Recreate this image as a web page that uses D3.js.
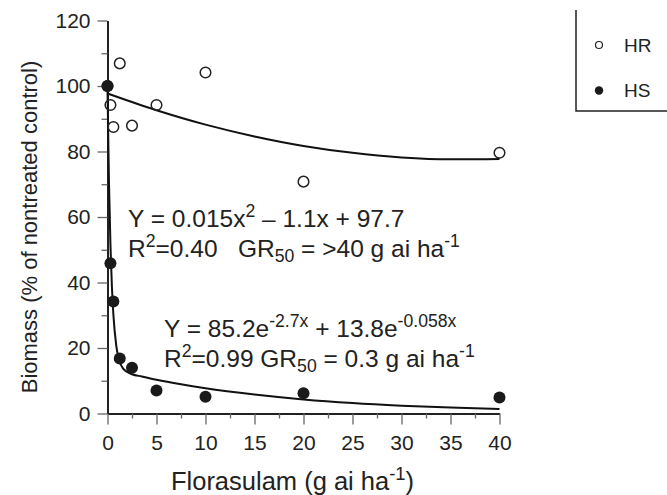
<!DOCTYPE html>
<html>
<head>
<meta charset="utf-8">
<script src="https://cdn.jsdelivr.net/npm/d3@7"></script>
<style>
  body { margin: 0; background: #fff; }
  svg text { font-family: "Liberation Sans", Arial, Helvetica, sans-serif; fill: #222; }
</style>
</head>
<body>
<svg id="chart" width="667" height="495"></svg>
<script>
// measured doses (g ai/ha) and biomass (% of nontreated control)
var doses = [0, 0.3, 0.6, 1.25, 2.5, 5, 10, 20, 40];
var hrValues = [100, 94.2, 87.5, 106.9, 87.9, 94.2, 104.1, 70.8, 79.6];
var hsValues = [100, 45.9, 34.2, 16.8, 14.0, 7.0, 5.1, 6.2, 4.9];

// fitted lines
var hrFitX = [0, 5, 10, 15, 20, 25, 30, 35, 40];
var hrFitY = [97.7, 92.6, 88.2, 84.6, 81.7, 79.6, 78.2, 77.6, 77.7];
var hsFitX = [0, 0.15, 0.3, 0.45, 0.6, 0.9, 1.25, 1.6, 2, 2.5, 3.5, 5, 7.5, 10, 15, 20, 25, 30, 35, 40];
var hsFitY = [99.0, 70.5, 51.5, 38.7, 30.2, 20.6, 15.7, 13.7, 12.7, 12.0, 11.3, 10.3, 8.9, 7.7, 5.8, 4.3, 3.2, 2.4, 1.8, 1.4];

var xTicks = [0, 5, 10, 15, 20, 25, 30, 35, 40];
var xMinor = [2.5, 7.5, 12.5, 17.5, 22.5, 27.5, 32.5, 37.5];
var yTicks = [0, 20, 40, 60, 80, 100, 120];
var yMinor = [10, 30, 50, 70, 90, 110];

var svg = d3.select("#chart");

var x = d3.scaleLinear().domain([0, 40]).range([107.5, 499.5]);
var y = d3.scaleLinear().domain([0, 120]).range([413.5, 20.5]);

// axes
var gx = svg.append("g").attr("transform", "translate(0," + y(0) + ")")
  .call(d3.axisBottom(x).tickValues(xTicks).tickSize(11).tickSizeOuter(0).tickPadding(11));
var gxm = svg.append("g").attr("transform", "translate(0," + y(0) + ")")
  .call(d3.axisBottom(x).tickValues(xMinor).tickSize(5).tickFormat(""));
gxm.select(".domain").remove();

var gy = svg.append("g").attr("transform", "translate(" + x(0) + ",0)")
  .call(d3.axisLeft(y).tickValues(yTicks).tickSize(10).tickSizeOuter(0).tickPadding(7));
var gym = svg.append("g").attr("transform", "translate(" + x(0) + ",0)")
  .call(d3.axisLeft(y).tickValues(yMinor).tickSize(6).tickFormat(""));
gym.select(".domain").remove();

svg.selectAll(".tick line").attr("stroke", "#666").attr("stroke-width", 1.3);
svg.selectAll(".domain").attr("stroke", "#222").attr("stroke-width", 2);
svg.selectAll(".tick text").style("font-size", "21px").attr("fill", "#222");

// fitted curves
var line = d3.line()
  .x(function(d) { return x(d[0]); })
  .y(function(d) { return y(d[1]); })
  .curve(d3.curveMonotoneX);

svg.append("path")
  .datum(d3.zip(hrFitX, hrFitY))
  .attr("d", line)
  .attr("fill", "none").attr("stroke", "#111").attr("stroke-width", 2);

svg.append("path")
  .datum(d3.zip(hsFitX, hsFitY))
  .attr("d", line)
  .attr("fill", "none").attr("stroke", "#111").attr("stroke-width", 2);

// points
svg.selectAll(".hr").data(d3.zip(doses, hrValues)).enter()
  .append("circle").attr("class", "hr")
  .attr("cx", function(d) { return x(d[0]); })
  .attr("cy", function(d) { return y(d[1]); })
  .attr("r", 5.3)
  .attr("fill", "none").attr("stroke", "#222").attr("stroke-width", 1.5);

svg.selectAll(".hs").data(d3.zip(doses, hsValues)).enter()
  .append("circle").attr("class", "hs")
  .attr("cx", function(d) { return x(d[0]); })
  .attr("cy", function(d) { return y(d[1]); })
  .attr("r", 6)
  .attr("fill", "#1a1a1a");

// text with super/subscripts: parts = [text, "sup"|"sub"|undefined]
function richText(px, py, size, parts) {
  var t = svg.append("text").attr("x", px).attr("y", py).style("font-size", size + "px");
  var shift = 0;
  parts.forEach(function(p) {
    var target = p[1] == "sup" ? -0.4 * size : p[1] == "sub" ? 0.22 * size : 0;
    t.append("tspan")
      .attr("dy", target - shift)
      .style("font-size", p[1] ? (size * 0.72) + "px" : size + "px")
      .text(p[0]);
    shift = target;
  });
  return t;
}

richText(128, 227, 24.5, [["Y = 0.015x"], ["2", "sup"], [" \u2013 1.1x + 97.7"]]);
richText(128, 257, 24.5, [["R"], ["2", "sup"], ["=0.40\u00a0\u00a0\u00a0GR"], ["50", "sub"], [" = >40 g ai ha"], ["-1", "sup"]]);
richText(164, 337, 24.5, [["Y = 85.2e"], ["-2.7x", "sup"], [" + 13.8e"], ["-0.058x", "sup"]]);
richText(164, 367, 24.5, [["R"], ["2", "sup"], ["=0.99 GR"], ["50", "sub"], [" = 0.3 g ai ha"], ["-1", "sup"]]);

// axis titles
richText(0, 490, 25.5, [["Florasulam (g ai ha"], ["-1", "sup"], [")"]])
  .attr("x", 292.5).attr("text-anchor", "middle");

svg.append("text")
  .attr("transform", "translate(37,227) rotate(-90)")
  .attr("text-anchor", "middle")
  .style("font-size", "22px")
  .text("Biomass (% of nontreated control)");

// legend (box runs past the top and right edges)
var lg = svg.append("g");
lg.append("path")
  .attr("d", "M576,10V111H667")
  .attr("fill", "none").attr("stroke", "#222").attr("stroke-width", 1.5);
lg.append("circle").attr("cx", 599).attr("cy", 45).attr("r", 3.5)
  .attr("fill", "none").attr("stroke", "#222").attr("stroke-width", 1.2);
lg.append("circle").attr("cx", 599).attr("cy", 90.5).attr("r", 4.2).attr("fill", "#1a1a1a");
lg.append("text").attr("x", 624).attr("y", 52).style("font-size", "19px").text("HR");
lg.append("text").attr("x", 624).attr("y", 97).style("font-size", "19px").text("HS");
</script>
</body>
</html>
